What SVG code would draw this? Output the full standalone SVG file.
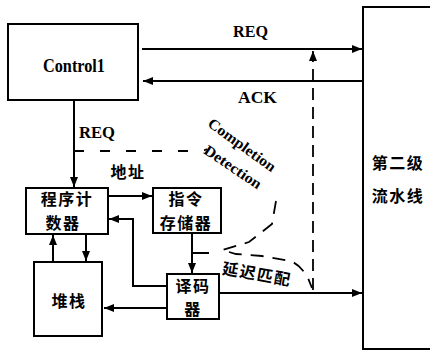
<svg xmlns="http://www.w3.org/2000/svg" width="430" height="352" viewBox="0 0 430 352">
<style>
.box{fill:#fff;stroke:#000;stroke-width:2}
.ln{fill:none;stroke:#000;stroke-width:2}
.dl{fill:none;stroke:#000;stroke-width:1.8}
.lat{font-family:"Liberation Serif","Times New Roman",serif;font-weight:bold;fill:#000}
.cjk{font-family:"Noto Sans CJK SC","Noto Sans CJK JP",sans-serif;font-weight:bold;fill:#000;font-size:16px;text-anchor:middle;letter-spacing:1.5px}
</style>
<defs>
<marker id="ah" markerUnits="userSpaceOnUse" markerWidth="11" markerHeight="9" refX="10" refY="4" orient="auto">
<path d="M0,0 L10,4 L0,8 z" fill="#000" stroke="none"/>
</marker>
</defs>
<rect width="430" height="352" fill="#fff"/>
<g id="connectors">
<path class="ln" d="M142,49 H362" marker-end="url(#ah)"/>
<path class="ln" d="M363,81 H143" marker-end="url(#ah)"/>
<path class="ln" d="M74,100 V187" marker-end="url(#ah)"/>
<path class="ln" d="M108,196 H152" marker-end="url(#ah)"/>
<path class="ln" d="M167,286 H133 V219 H109" marker-end="url(#ah)"/>
<path class="ln" d="M192,233 V273" marker-end="url(#ah)"/>
<path class="ln" d="M53,262 V235" marker-end="url(#ah)"/>
<path class="ln" d="M86,234 V261" marker-end="url(#ah)"/>
<path class="ln" d="M167,308 H104" marker-end="url(#ah)"/>
<path class="ln" d="M219,293 H362" marker-end="url(#ah)"/>
<path class="ln" d="M193,253 H209" stroke-width="1.6"/>
<path class="dl" d="M313,290 V51" stroke-dasharray="12,7" marker-end="url(#ah)"/>
<path class="dl" d="M74,151 H198 Q204,151 207,149" stroke-dasharray="10,16"/>
<path class="dl" d="M276,201 L272,224 L249,242 L222,250 L236,254 L262,256 L290,261 Q300,264 308,278 L312,288" stroke-dasharray="13,9"/>
</g>
<g id="control1">
<rect class="box" x="8" y="24" width="130" height="76"/>
<text class="lat" x="43" y="72" font-size="18" textLength="62" lengthAdjust="spacingAndGlyphs">Control1</text>
</g>
<g id="stage2">
<rect class="box" x="363" y="7" width="80" height="342"/>
<text class="cjk" x="398" y="169" font-size="18" letter-spacing="2">第二级</text>
<text class="cjk" x="398" y="202" font-size="18" letter-spacing="2">流水线</text>
</g>
<g id="pc">
<rect class="box" x="26" y="188" width="82" height="46"/>
<text class="cjk" x="67" y="204.5">程序计</text>
<text class="cjk" x="63" y="228.5">数器</text>
</g>
<g id="imem">
<rect class="box" x="153" y="188" width="68" height="45"/>
<text class="cjk" x="186" y="204.5">指令</text>
<text class="cjk" x="186" y="228.5">存储器</text>
</g>
<g id="decoder">
<rect class="box" x="167" y="274" width="52" height="45"/>
<text class="cjk" x="193" y="292" font-size="15.5">译码</text>
<text class="cjk" x="193" y="315" font-size="15.5">器</text>
</g>
<g id="stack">
<rect class="box" x="34" y="262" width="68" height="74"/>
<text class="cjk" x="69" y="307" font-size="18">堆栈</text>
</g>
<g id="labels">
<text class="lat" x="233" y="37" font-size="16" textLength="35" lengthAdjust="spacingAndGlyphs">REQ</text>
<text class="lat" x="238" y="103" font-size="16" textLength="39" lengthAdjust="spacingAndGlyphs">ACK</text>
<text class="lat" x="79" y="138" font-size="16" textLength="36" lengthAdjust="spacingAndGlyphs">REQ</text>
<text class="cjk" x="128" y="178" font-size="16">地址</text>
<text class="lat" font-size="15" text-anchor="middle" transform="translate(242,145) rotate(36)" y="5" textLength="80" lengthAdjust="spacingAndGlyphs">Completion</text>
<text class="lat" font-size="15" text-anchor="middle" transform="translate(233,167) rotate(34)" y="5" textLength="66" lengthAdjust="spacingAndGlyphs">Detection</text>
<text class="cjk" font-size="16" transform="translate(257,274) rotate(10)" y="6" letter-spacing="1.5">延迟匹配</text>
</g>
</svg>
